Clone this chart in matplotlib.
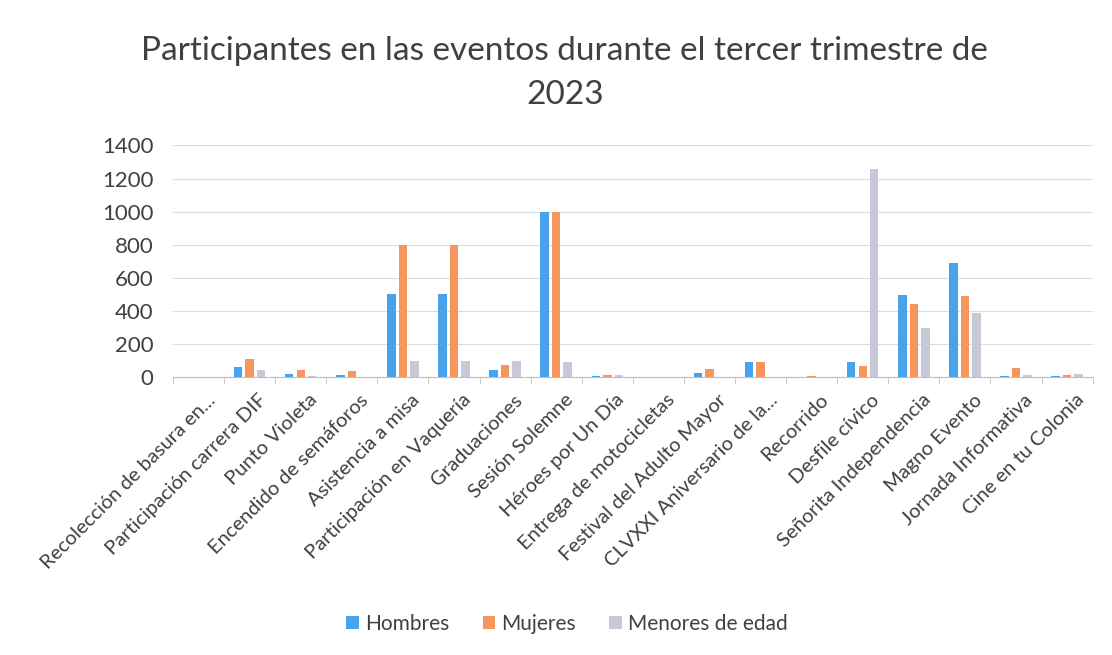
# Participantes en eventos, tercer trimestre 2023
import numpy as np
import matplotlib.pyplot as plt
from matplotlib.transforms import ScaledTranslation

plt.rcParams['font.family'] = ['Lato', 'DejaVu Sans']

eventos = ['Recolección de basura en...', 'Participación carrera DIF', 'Punto Violeta',
           'Encendido de semáforos', 'Asistencia a misa', 'Participación en Vaquería',
           'Graduaciones', 'Sesión Solemne', 'Héroes por Un Día', 'Entrega de motocicletas',
           'Festival del Adulto Mayor', 'CLVXXI Aniversario de la...', 'Recorrido',
           'Desfile cívico', 'Señorita Independencia', 'Magno Evento',
           'Jornada Informativa', 'Cine en tu Colonia']
hombres = [3, 60, 18, 14, 500, 500, 45, 1000, 5, 1, 24, 90, 0, 95, 495, 690, 6, 6]
mujeres = [2, 108, 46, 36, 800, 800, 73, 1000, 12, 2, 50, 90, 10, 70, 440, 490, 58, 14]
menores = [0, 46, 5, 0, 100, 100, 100, 95, 15, 2, 0, 0, 0, 1260, 295, 390, 14, 22]

series = ['Hombres', 'Mujeres', 'Menores de edad']
colores = ['#4AA3EA', '#F5965C', '#C8C8D8']

fig = plt.figure(figsize=(11.12, 6.55), dpi=100)
ax = fig.add_axes([0.1556, 0.424, 0.827, 0.354])

x = np.arange(len(eventos))
w = 0.165
for i, (vals, c, lab) in enumerate(zip([hombres, mujeres, menores], colores, series)):
    ax.bar(x + (i - 1) * 0.225, vals, width=w, color=c, label=lab, zorder=3)

ax.set_xlim(-0.5, len(eventos) - 0.5)
ax.set_ylim(0, 1400)
ax.set_yticks(range(0, 1401, 200))
ax.yaxis.grid(True, color='#DCDCDC', linewidth=0.8, zorder=0)
for s in ['top', 'right', 'left']:
    ax.spines[s].set_visible(False)
ax.spines['bottom'].set_color('#BFBFBF')
ax.tick_params(axis='y', length=0, labelsize=16, labelcolor='#404040', pad=14)

ax.set_xticks(x)
ax.set_xticklabels(eventos, rotation=45, ha='right', rotation_mode='anchor',
                   fontsize=14.5, color='#404040')
ax.tick_params(axis='x', which='major', length=0, pad=10)
shift = ScaledTranslation(8 / 100, 0, fig.dpi_scale_trans)
for t in ax.get_xticklabels():
    t.set_transform(t.get_transform() + shift)
ax.set_xticks(np.arange(-0.5, len(eventos)), minor=True)
ax.tick_params(axis='x', which='minor', length=5, color='#BFBFBF')

fig.suptitle('Participantes en las eventos durante el tercer trimestre de\n2023',
             x=0.508, y=0.945, fontsize=24, color='#404040', linespacing=1.6)

fig.legend(loc='center', bbox_to_anchor=(0.51, 0.048), ncol=3, frameon=False,
           fontsize=15, handlelength=0.6, handleheight=0.6, columnspacing=1.6,
           handletextpad=0.3, labelcolor='#404040')

fig.savefig('out.png', dpi=100)
